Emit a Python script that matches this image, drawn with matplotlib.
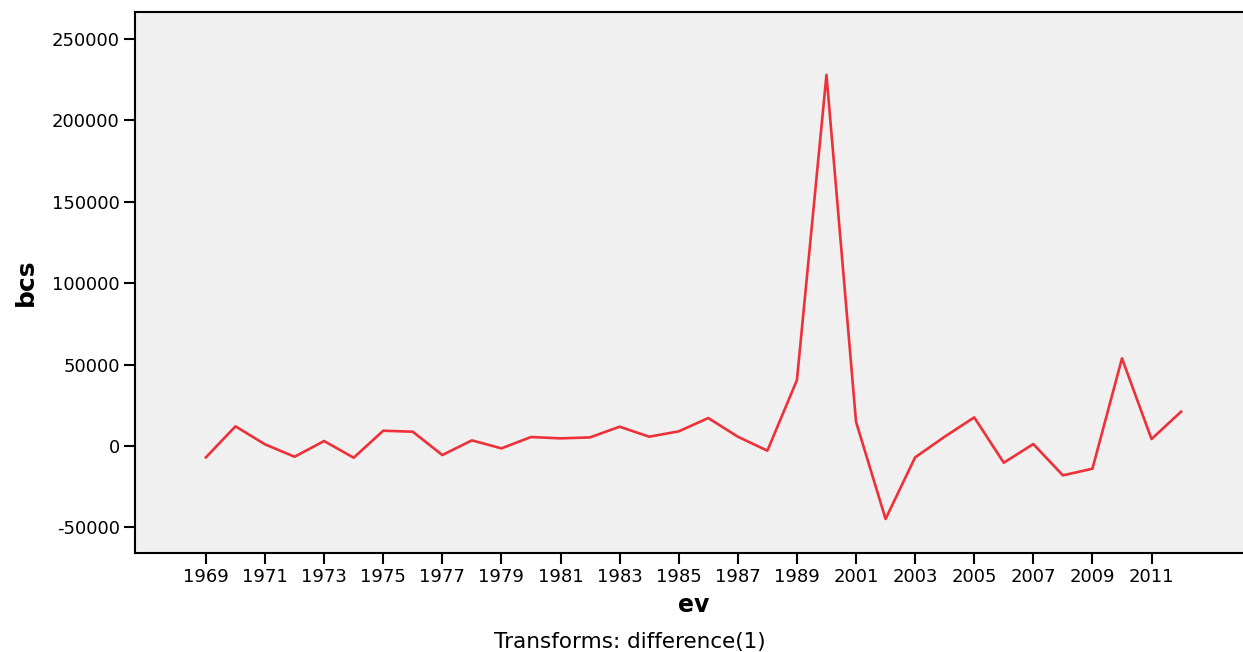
import matplotlib
matplotlib.use('Agg')
import matplotlib.pyplot as plt

# year labels (differenced series, gap between 1989 and 2000)
years = [1969, 1970, 1971, 1972, 1973, 1974, 1975, 1976, 1977, 1978, 1979,
         1980, 1981, 1982, 1983, 1984, 1985, 1986, 1987, 1988, 1989, 2000,
         2001, 2002, 2003, 2004, 2005, 2006, 2007, 2008, 2009, 2010, 2011, 2012]
bcs = [-6950, 12100, 1040, -6570, 3070, -7170, 9400, 8800, -5530, 3480, -1430,
       5530, 4710, 5320, 11880, 5730, 9010, 17200, 5730, -2870, 40500, 228000,
       14900, -44800, -6960, 5730, 17600, -10240, 1230, -18020, -13920, 53860, 4300, 21100]
y_ticks = [-50000, 0, 50000, 100000, 150000, 200000, 250000]

plt.rcParams['font.family'] = ['DejaVu Sans']

fig = plt.figure(figsize=(12.43, 6.52), dpi=100)
ax = fig.add_axes([135 / 1243, 1 - 553 / 652, 1117 / 1243, 541 / 652])
ax.set_facecolor('#f0f0f0')

pos = list(range(len(years)))
ax.plot(pos, bcs, color='#ee3038', linewidth=1.9)

ax.set_xlim(-2.4, 35.4)
ax.set_ylim(-65700, 266600)

tick_pos = [p for p, y in zip(pos, years) if p % 2 == 0 and y != 2000]
tick_lab = [str(years[p]) for p in tick_pos]
ax.set_xticks(tick_pos)
ax.set_xticklabels(tick_lab, fontsize=13)
ax.set_yticks(y_ticks)
ax.set_yticklabels([str(v) for v in y_ticks], fontsize=13)
ax.tick_params(axis='both', direction='out', length=8, width=1.5, color='black', pad=3)

for s in ['left', 'bottom', 'top']:
    ax.spines[s].set_linewidth(1.5)
ax.spines['right'].set_visible(False)

ax.set_xlabel('ev', fontsize=17, fontweight='bold', labelpad=5)
ax.set_ylabel('bcs', fontsize=18, fontweight='bold', labelpad=10)

fig.text(0.507, 1 - 642 / 652, 'Transforms: difference(1)', fontsize=15.5, ha='center', va='center')

fig.savefig('out.png', dpi=100)
